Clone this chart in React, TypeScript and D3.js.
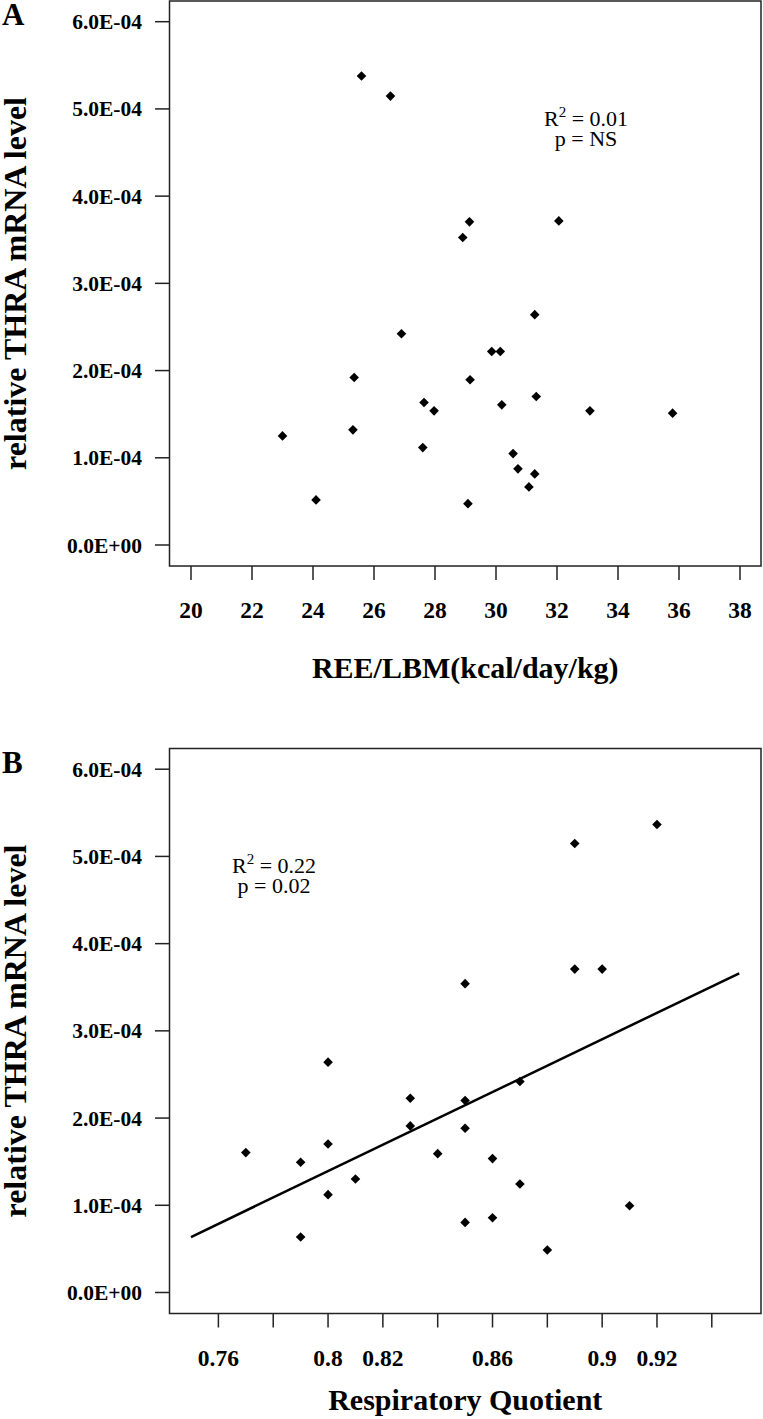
import React from "react";
import * as d3 from "d3";

// ---- Panel A data: REE/LBM vs relative THRA mRNA level ----
const reeLbm = [25.59, 26.54, 29.13, 28.91, 32.06, 31.27, 26.90, 29.86, 30.14, 25.35, 29.15, 31.32, 27.64, 30.19, 27.97, 33.08, 35.79, 25.31, 23.00, 27.60, 30.56, 30.72, 31.27, 31.08, 24.10, 29.08];
const thraA = [5.377e-4, 5.147e-4, 3.705e-4, 3.525e-4, 3.716e-4, 2.641e-4, 2.422e-4, 2.219e-4, 2.219e-4, 1.921e-4, 1.894e-4, 1.703e-4, 1.634e-4, 1.607e-4, 1.538e-4, 1.538e-4, 1.512e-4, 1.320e-4, 1.251e-4, 1.117e-4, 1.048e-4, 0.873e-4, 0.815e-4, 0.666e-4, 0.517e-4, 0.474e-4];
const xTicksA = [20, 22, 24, 26, 28, 30, 32, 34, 36, 38];
const xTickLabelsA = ["20", "22", "24", "26", "28", "30", "32", "34", "36", "38"];

// ---- Panel B data: Respiratory quotient vs relative THRA mRNA level ----
const rq = [0.92, 0.89, 0.89, 0.90, 0.85, 0.80, 0.87, 0.83, 0.85, 0.83, 0.85, 0.80, 0.77, 0.84, 0.79, 0.86, 0.81, 0.87, 0.80, 0.91, 0.86, 0.85, 0.79, 0.88];
const thraB = [5.366e-4, 5.148e-4, 3.708e-4, 3.708e-4, 3.541e-4, 2.641e-4, 2.419e-4, 2.227e-4, 2.201e-4, 1.910e-4, 1.883e-4, 1.703e-4, 1.604e-4, 1.592e-4, 1.493e-4, 1.535e-4, 1.302e-4, 1.244e-4, 1.122e-4, 0.995e-4, 0.857e-4, 0.804e-4, 0.636e-4, 0.487e-4];
const xTicksB = [0.76, 0.78, 0.80, 0.82, 0.84, 0.86, 0.88, 0.90, 0.92, 0.94];
const xTickLabelsB = ["0.76", "", "0.8", "0.82", "", "0.86", "", "0.9", "0.92", ""];
const regLineX = [0.75, 0.95];
const regLineY = [0.636e-4, 3.66e-4];

// ---- shared y axis ----
const yTicks = [0, 1e-4, 2e-4, 3e-4, 4e-4, 5e-4, 6e-4];
const yTickLabels = ["0.0E+00", "1.0E-04", "2.0E-04", "3.0E-04", "4.0E-04", "5.0E-04", "6.0E-04"];

const SERIF = '"Liberation Serif", "Times New Roman", Times, serif';

type PanelProps = {
  letter: string;
  top: number;
  xs: number[];
  ys: number[];
  xDomain: [number, number];
  xRange: [number, number];
  xTicks: number[];
  xTickLabels: string[];
  xLabel: string;
  xLabelBaseline: number;
  stat1: string;
  stat2: string;
  statX: number;
  statY: number;
  reg?: { x: number[]; y: number[] };
};

function diamondPath(cx: number, cy: number, r: number) {
  return `M${cx},${cy - r}L${cx + r},${cy}L${cx},${cy + r}L${cx - r},${cy}Z`;
}

function Panel(p: PanelProps) {
  const boxLeft = 169.5;
  const boxRight = 761;
  const boxTop = p.top + 1;
  const boxBottom = p.top + 566;
  const x = d3.scaleLinear().domain(p.xDomain).range(p.xRange);
  const y = d3.scaleLinear().domain([0, 6e-4]).range([p.top + 545, p.top + 21.7]);
  const line = d3
    .line<number>()
    .x((_, i) => x(p.reg ? p.reg.x[i] : 0))
    .y((d) => y(d));
  const midY = (boxTop + boxBottom) / 2;
  return (
    <g>
      <text x={2} y={p.top + 25} fontFamily={SERIF} fontWeight="bold" fontSize={31}>
        {p.letter}
      </text>
      <rect
        x={boxLeft}
        y={boxTop}
        width={boxRight - boxLeft}
        height={boxBottom - boxTop}
        fill="none"
        stroke="#222"
        strokeWidth={1.5}
      />
      {yTicks.map((t, i) => (
        <g key={"y" + i}>
          <line x1={155} x2={boxLeft} y1={y(t)} y2={y(t)} stroke="#222" strokeWidth={1.5} />
          <text
            x={142}
            y={y(t)}
            dy="0.35em"
            textAnchor="end"
            fontFamily={SERIF}
            fontWeight="bold"
            fontSize={21.5}
          >
            {yTickLabels[i]}
          </text>
        </g>
      ))}
      {p.xTicks.map((t, i) => (
        <g key={"x" + i}>
          <line x1={x(t)} x2={x(t)} y1={boxBottom} y2={boxBottom + 14} stroke="#222" strokeWidth={1.5} />
          <text
            x={x(t)}
            y={boxBottom + 52}
            textAnchor="middle"
            fontFamily={SERIF}
            fontWeight="bold"
            fontSize={23.5}
          >
            {p.xTickLabels[i]}
          </text>
        </g>
      ))}
      <text
        x={(boxLeft + boxRight) / 2}
        y={p.xLabelBaseline}
        textAnchor="middle"
        fontFamily={SERIF}
        fontWeight="bold"
        fontSize={30}
      >
        {p.xLabel}
      </text>
      <text
        transform={`translate(26, ${midY}) rotate(-90)`}
        textAnchor="middle"
        fontFamily={SERIF}
        fontWeight="bold"
        fontSize={32}
      >
        relative THRA mRNA level
      </text>
      {p.reg && (
        <path d={line(p.reg.y) || ""} fill="none" stroke="#000" strokeWidth={2.5} />
      )}
      {p.xs.map((xv, i) => (
        <path key={"pt" + i} d={diamondPath(x(xv), y(p.ys[i]), 4.8)} fill="#000" />
      ))}
      <text x={p.statX} y={p.statY} textAnchor="middle" fontFamily={SERIF} fontSize={22}>
        R<tspan dy={-9} fontSize={15}>2</tspan>
        <tspan dy={9}>{p.stat1}</tspan>
      </text>
      <text x={p.statX} y={p.statY + 20} textAnchor="middle" fontFamily={SERIF} fontSize={22}>
        {p.stat2}
      </text>
    </g>
  );
}

export default function App() {
  return (
    <svg
      width={763}
      height={1419}
      style={{ position: "absolute", left: 0, top: 0, background: "#fff" }}
    >
      <rect x={0} y={0} width={763} height={1419} fill="#fff" />
      <Panel
        letter="A"
        top={0}
        xs={reeLbm}
        ys={thraA}
        xDomain={[20, 38]}
        xRange={[191, 740]}
        xTicks={xTicksA}
        xTickLabels={xTickLabelsA}
        xLabel="REE/LBM(kcal/day/kg)"
        xLabelBaseline={678}
        stat1=" = 0.01"
        stat2="p = NS"
        statX={586}
        statY={126}
      />
      <Panel
        letter="B"
        top={747.5}
        xs={rq}
        ys={thraB}
        xDomain={[0.76, 0.94]}
        xRange={[218.4, 711.8]}
        xTicks={xTicksB}
        xTickLabels={xTickLabelsB}
        xLabel="Respiratory Quotient"
        xLabelBaseline={1410}
        stat1=" = 0.22"
        stat2="p = 0.02"
        statX={274}
        statY={872.7}
        reg={{ x: regLineX, y: regLineY }}
      />
    </svg>
  );
}
